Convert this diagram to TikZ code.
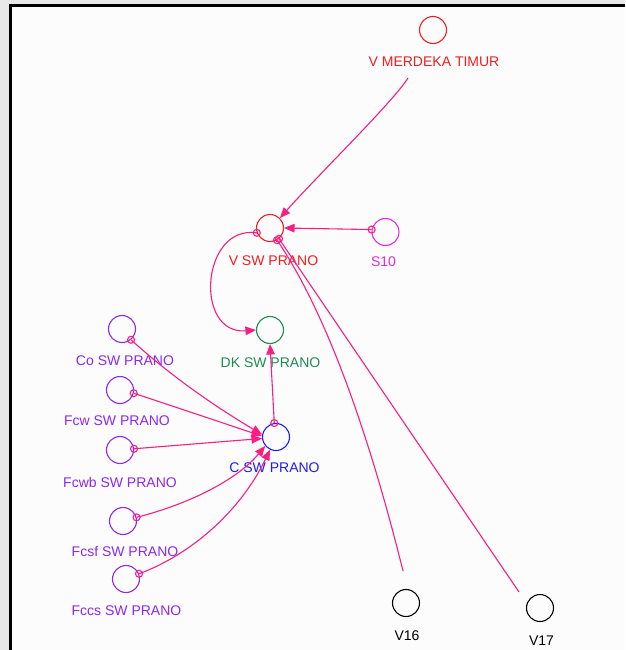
\documentclass[tikz,border=0pt]{standalone}
\usepackage{fontspec}
\setmainfont{Liberation Sans}
\usetikzlibrary{arrows.meta}
\definecolor{linkpink}{RGB}{250,30,130}
\definecolor{varred}{RGB}{240,30,30}
\definecolor{varmag}{RGB}{228,40,228}
\definecolor{varpurple}{RGB}{140,40,240}
\definecolor{vargreen}{RGB}{30,140,80}
\definecolor{varblue}{RGB}{30,30,240}
\definecolor{outside}{RGB}{232,232,232}
\definecolor{canvas}{RGB}{252,252,252}
\begin{document}
\begin{tikzpicture}[x=1pt,y=-1pt,
  var/.style={circle,draw,minimum size=27pt,inner sep=0pt,line width=1.1pt},
  lbl/.style={font=\fontsize{14}{16}\selectfont,inner sep=0pt,anchor=center},
  link/.style={draw=linkpink,line width=1.1pt,-{Triangle[length=10.5pt,width=8.5pt]}},
  plainlink/.style={draw=linkpink,line width=1.1pt},
  tapring/.style={draw=linkpink,line width=1.1pt}]
\useasboundingbox (0,0) rectangle (625,650);
% sheet and frame
\fill[outside] (0,0) rectangle (625,650);
\fill[canvas] (10.5,5.5) rectangle (625,650);
\draw[black,line width=2.2pt] (10.5,650) -- (10.5,5.5) -- (625,5.5);

% variables
\node[var,draw=varred]    (vmt)  at (433,30)  {};
\node[var,draw=varred]    (vsw)  at (270,228) {};
\node[var,draw=varmag]    (s10)  at (385.5,232) {};
\node[var,draw=vargreen]  (dk)   at (270,330) {};
\node[var,draw=varblue]   (c)    at (276,437) {};
\node[var,draw=varpurple] (co)   at (122,329) {};
\node[var,draw=varpurple] (fcw)  at (120,390) {};
\node[var,draw=varpurple] (fcwb) at (120,450) {};
\node[var,draw=varpurple] (fcsf) at (123,521) {};
\node[var,draw=varpurple] (fccs) at (126,579) {};
\node[var,draw=black]     (v16)  at (406,603) {};
\node[var,draw=black]     (v17)  at (540,608) {};

% labels
\node[lbl,text=varred]    (vmtl)  at (434,62)    {V MERDEKA TIMUR};
\node[lbl,text=varred]    (vswl)  at (273.5,261) {V SW PRANO};
\node[lbl,text=varmag]    (s10l)  at (383.5,262) {S10};
\node[lbl,text=vargreen]  (dkl)   at (270.5,362.5) {DK SW PRANO};
\node[lbl,text=varblue]   (cl)    at (274.5,468) {C SW PRANO};
\node[lbl,text=varpurple] (col)   at (125,361)   {Co SW PRANO};
\node[lbl,text=varpurple] (fcwl)  at (117,420.5) {Fcw SW PRANO};
\node[lbl,text=varpurple] (fcwbl) at (120,482.5) {Fcwb SW PRANO};
\node[lbl,text=varpurple] (fcsfl) at (125,551.5) {Fcsf SW PRANO};
\node[lbl,text=varpurple] (fccsl) at (126.5,611) {Fccs SW PRANO};
\node[lbl,text=black]     (v16l)  at (407,636)   {V16};
\node[lbl,text=black]     (v17l)  at (541.5,641) {V17};

% free ends of links
\coordinate (vmtfoot) at (408,78);
\coordinate (v16end)  at (403,571);
\coordinate (v17end)  at (519,592);

% links
\draw[link] (vmtfoot) .. controls (393,102) and (318,175) .. (vsw.45);
\draw[link] (s10.170) -- (vsw.east);
\draw[link] (vsw.200) .. controls +(-56,-8) and +(-62,5) .. (dk.west);
\draw[link] (c.97) -- (dk.south);
\draw[plainlink] (vsw.-60) .. controls (335,325) and (378,470) .. (v16end);
\draw[plainlink] (vsw.-50) -- (v17end);
\draw[link] (co.-50) .. controls (172,377) and (216,407) .. (c.170);
\draw[link] (fcw.-13) -- (c.176);
\draw[link] (fcwb.5) -- (c.186);
\draw[link] (fcsf.15) .. controls (185,505) and (235,482) .. (c.220);
\draw[link] (fccs.22) .. controls (190,555) and (240,512) .. (c.245);

% source rings
\foreach \p in {(s10.170),(vsw.200),(c.97),(vsw.-60),(vsw.-50),(co.-50),(fcw.-13),(fcwb.5),(fcsf.15),(fccs.22)}
  \draw[tapring] \p circle (3.5);
\end{tikzpicture}
\end{document}
